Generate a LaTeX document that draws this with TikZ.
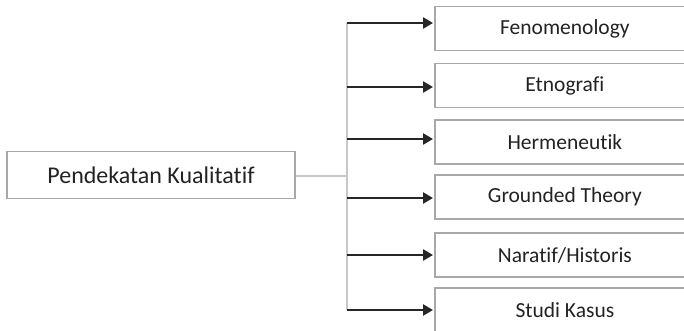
\documentclass[tikz,border=0pt]{standalone}
\usepackage{fontspec}
\setmainfont{Carlito}[Ligatures={NoCommon}]
\usetikzlibrary{arrows.meta}
\definecolor{boxgray}{HTML}{A8A8A8}
\definecolor{linegray}{HTML}{C8C8C8}
\definecolor{txt}{HTML}{222222}
\begin{document}
\begin{tikzpicture}[x=1pt,y=-1pt,
  mainbox/.style={draw=boxgray,line width=1.8pt,minimum width=288pt,minimum height=47pt,inner sep=0pt,text=txt,font=\fontsize{24}{26}\selectfont},
  itembox/.style={draw=boxgray,line width=1.8pt,minimum width=260pt,minimum height=44pt,inner sep=0pt,text=txt,font=\fontsize{21.5}{23}\selectfont,anchor=west},
  link/.style={draw=linegray,line width=1.5pt},
  arr/.style={draw=black!85,line width=2.6pt,-{Triangle[length=10pt,width=11pt]},shorten >=1pt}]
\useasboundingbox (0,0) rectangle (684,331);
\begin{scope}
\clip (0,0) rectangle (684,331);
\node[mainbox] (main) at (151,175) {Pendekatan Kualitatif};
\node[itembox] (b1) at (434,28.5) {Fenomenology};
\node[itembox] (b2) at (434,85.5) {Etnografi};
\node[itembox] (b3) at (434,142) {Hermeneutik};
\node[itembox] (b4) at (434,197) {Grounded Theory};
\node[itembox] (b5) at (434,255) {Naratif/Historis};
\node[itembox] (b6) at (434,310) {Studi Kasus};
\coordinate (j) at (347,176);
\coordinate (t) at (347,23);
\coordinate (bt) at (347,310);
\draw[link] (main.east |- j) -- (j);
\draw[link] (t) -- (bt);
\draw[arr] (t) -- (b1.west |- t);
\draw[arr] (347,87) -- (b2.west |- 0,87);
\draw[arr] (347,139) -- (b3.west |- 0,139);
\draw[arr] (347,198) -- (b4.west |- 0,198);
\draw[arr] (347,255) -- (b5.west |- 0,255);
\draw[arr] (bt) -- (b6.west |- bt);
\end{scope}
\end{tikzpicture}
\end{document}
